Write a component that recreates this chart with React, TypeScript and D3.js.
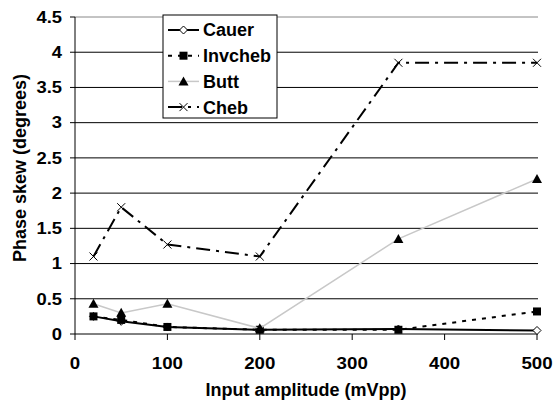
import React from 'react';
import * as d3 from 'd3';

const amplitudes = [20, 50, 100, 200, 350, 500];
const cauer = [0.25, 0.18, 0.1, 0.06, 0.07, 0.05];
const invcheb = [0.25, 0.2, 0.1, 0.06, 0.06, 0.32];
const butt = [0.43, 0.3, 0.43, 0.08, 1.35, 2.2];
const cheb = [1.1, 1.8, 1.27, 1.1, 3.85, 3.85];
const yTicks = [0, 0.5, 1, 1.5, 2, 2.5, 3, 3.5, 4, 4.5];
const xTicks = [0, 100, 200, 300, 400, 500];

const seriesList = [
  { name: 'Cauer', values: cauer, stroke: '#000', width: 2, dash: '', marker: 'diamond' },
  { name: 'Invcheb', values: invcheb, stroke: '#000', width: 2, dash: '4,6', marker: 'square' },
  { name: 'Butt', values: butt, stroke: '#c8c8c8', width: 1.5, dash: '', marker: 'triangle' },
  { name: 'Cheb', values: cheb, stroke: '#000', width: 2, dash: '14,6,3,6', marker: 'cross' },
];

const font = '"Liberation Sans", Arial, sans-serif';

function Marker({ type, x, y }) {
  if (type === 'diamond') {
    return <path d={`M${x},${y - 4}L${x + 4},${y}L${x},${y + 4}L${x - 4},${y}Z`} fill="#fff" stroke="#000" strokeWidth={1} />;
  }
  if (type === 'square') {
    return <rect x={x - 4} y={y - 4} width={8} height={8} fill="#000" />;
  }
  if (type === 'triangle') {
    return <path d={`M${x},${y - 5}L${x + 5},${y + 4}L${x - 5},${y + 4}Z`} fill="#000" />;
  }
  return <path d={`M${x - 4},${y - 4}L${x + 4},${y + 4}M${x + 4},${y - 4}L${x - 4},${y + 4}`} stroke="#000" strokeWidth={1} />;
}

// stretched bold label, like the original's wide glyphs
function Label({ x, y, anchor, size, sx, children, dy }) {
  return (
    <text transform={`translate(${x},${y}) scale(${sx},1)`} dy={dy} textAnchor={anchor}
      fontFamily={font} fontWeight="bold" fontSize={size}>{children}</text>
  );
}

export default function App() {
  const width = 553;
  const height = 406;
  const x = d3.scaleLinear().domain([0, 500]).range([75, 537]);
  const y = d3.scaleLinear().domain([0, 4.5]).range([334, 17]);

  const line = d3.line<number>()
    .x((d, i) => x(amplitudes[i]))
    .y((d) => y(d));

  return (
    <svg width={width} height={height} style={{ position: 'absolute', left: 0, top: 0, background: '#fff' }}>
      {yTicks.map((t) => (
        <g key={t}>
          {t > 0 && <line x1={75} x2={538} y1={y(t)} y2={y(t)} stroke={t === 4.5 ? '#888' : '#000'} strokeWidth={1} />}
          <line x1={70} x2={75} y1={y(t)} y2={y(t)} stroke="#000" />
          <Label x={62} y={y(t)} dy="0.36em" anchor="end" size={16} sx={1.15}>{t}</Label>
        </g>
      ))}
      <line x1={75} x2={75} y1={17} y2={334} stroke="#000" />
      <line x1={75} x2={538} y1={334} y2={334} stroke="#000" />
      {xTicks.map((t) => (
        <g key={t}>
          <line x1={x(t)} x2={x(t)} y1={334} y2={340} stroke="#000" />
          <Label x={x(t)} y={369} anchor="middle" size={17} sx={1.1}>{t}</Label>
        </g>
      ))}
      <text x={306} y={396} textAnchor="middle" fontFamily={font} fontWeight="bold" fontSize={18}>Input amplitude (mVpp)</text>
      <text transform="translate(26,168) rotate(-90)" textAnchor="middle" fontFamily={font} fontWeight="bold" fontSize={18}>Phase skew (degrees)</text>

      {seriesList.map((s) => (
        <g key={s.name}>
          <path d={line(s.values) || ''} fill="none" stroke={s.stroke} strokeWidth={s.width} strokeDasharray={s.dash} />
          {s.values.map((v, i) => (
            <Marker key={i} type={s.marker} x={x(amplitudes[i])} y={y(v)} />
          ))}
        </g>
      ))}

      <g>
        <rect x={163} y={15} width={114} height={103} fill="#fff" stroke="#000" strokeWidth={1} />
        {seriesList.map((s, i) => {
          const ly = 30 + i * 25.7;
          return (
            <g key={s.name}>
              <line x1={168} x2={199} y1={ly} y2={ly} stroke={s.stroke} strokeWidth={s.width} strokeDasharray={s.dash} />
              <Marker type={s.marker} x={183.5} y={ly} />
              <Label x={203} y={ly} dy="0.36em" anchor="start" size={18} sx={1}>{s.name}</Label>
            </g>
          );
        })}
      </g>
    </svg>
  );
}
